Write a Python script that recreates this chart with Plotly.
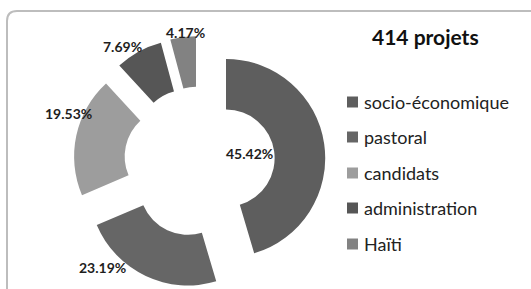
import plotly.graph_objects as go

labels = ["socio-économique", "pastoral", "candidats", "administration", "Haïti"]
values = [45.42, 23.19, 19.53, 7.69, 4.17]
colors = ["#5e5e5e", "#666666", "#9d9d9d", "#565656", "#828282"]
title_text = "414 projets"

W, H = 531, 289
FONT = "Lato"

fig = go.Figure()
fig.add_trace(go.Pie(
    labels=labels, values=values, sort=False, direction="clockwise", rotation=0,
    hole=0.49, pull=[0.27] * len(values),
    marker=dict(colors=colors, line=dict(width=0)),
    textinfo="none", showlegend=False, hoverinfo="label+percent",
    domain=dict(x=[73.5 / W, 325.5 / W], y=[1 - 288 / H, 1 - 36 / H]),
))

# data labels
label_pos = [(249, 153), (102, 267), (68, 113), (122, 46), (185, 32)]
for v, (px, py) in zip(values, label_pos):
    fig.add_annotation(x=px / W, y=1 - py / H, xref="paper", yref="paper",
                       xanchor="center", yanchor="middle",
                       text=f"<b>{v:.2f}%</b>", showarrow=False,
                       font=dict(family=FONT, size=14, color="#1e1e1e"))

# legend drawn manually
leg_y = [102, 137, 173, 208, 244]
for lab, col, py in zip(labels, colors, leg_y):
    fig.add_shape(type="rect", xref="paper", yref="paper",
                  x0=347 / W, x1=358 / W, y0=1 - (py - 5.5) / H, y1=1 - (py + 5.5) / H,
                  fillcolor=col, line=dict(width=0))
    fig.add_annotation(x=362 / W, y=1 - py / H, xref="paper", yref="paper",
                       text=lab, showarrow=False, xanchor="left", yanchor="middle",
                       font=dict(family=FONT, size=18, color="#222222"))

fig.add_annotation(x=425 / W, y=1 - 37 / H, xref="paper", yref="paper",
                   xanchor="center", yanchor="middle",
                   text=f"<b>{title_text}</b>", showarrow=False,
                   font=dict(family=FONT, size=21, color="#111111"))

# rounded frame
x0, y0, r = 7, 11, 10
x1, y1 = W + 20, H + 20
path = (f"M {x0/W},{1-(y0+r)/H} Q {x0/W},{1-y0/H} {(x0+r)/W},{1-y0/H} "
        f"L {x1/W},{1-y0/H} M {x0/W},{1-(y0+r)/H} L {x0/W},{1-y1/H}")
fig.add_shape(type="path", path=path, xref="paper", yref="paper",
              line=dict(color="#bdbdbd", width=2))

fig.update_layout(width=W, height=H, margin=dict(l=0, r=0, t=0, b=0),
                  paper_bgcolor="white", plot_bgcolor="white")
fig.write_html("out.html", config={"displayModeBar": False},
               post_script="document.body.style.margin='0';document.body.style.overflow='hidden';")
